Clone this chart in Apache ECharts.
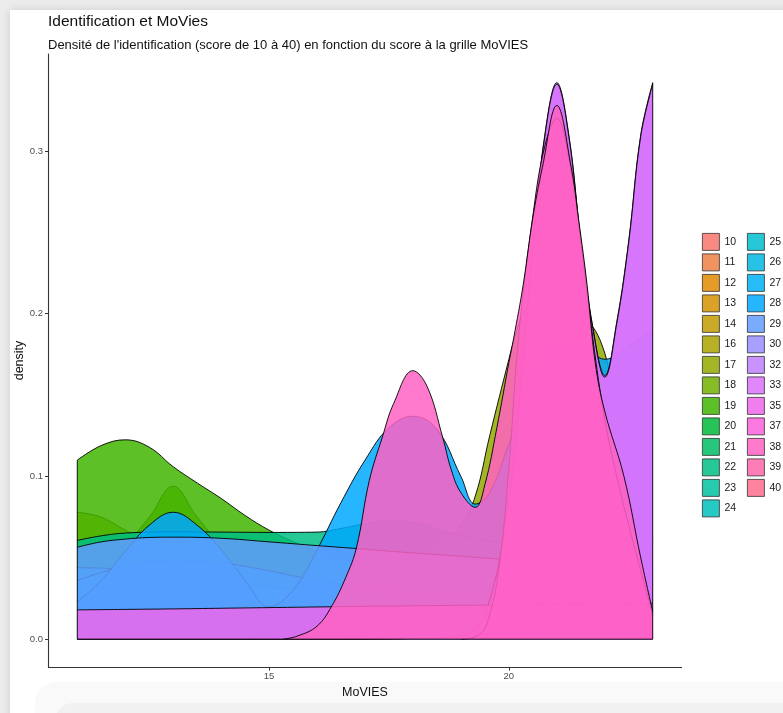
<!DOCTYPE html>
<html><head><meta charset="utf-8">
<script src="https://cdn.jsdelivr.net/npm/echarts@6/dist/echarts.min.js"></script>
<style>
html,body{margin:0;padding:0;width:783px;height:713px;overflow:hidden;background:#ececec;}
#card{position:absolute;left:10px;top:10px;width:800px;height:720px;background:#fff;box-shadow:0 0 9px rgba(0,0,0,0.13);}
#band1{position:absolute;left:35px;top:682px;width:780px;height:60px;background:#f9f9f9;border-radius:22px;}
#band2{position:absolute;left:55px;top:703px;width:760px;height:40px;background:#f1f1f1;border-radius:18px;}
#chart{position:absolute;left:0;top:0;width:783px;height:713px;}
</style></head>
<body>
<div id="card"></div><div id="band1"></div><div id="band2"></div>
<div id="chart"></div>
<script>
// ---- data ----
const groups = ['10','11','12','13','14','16','17','18','19','20','21','22','23','24','25','26','27','28','29','30','32','33','35','37','38','39','40'];
const xTicks = [15, 20];
const yTicks = [0, 0.1, 0.2, 0.3];

const xs16 = [11,11.5,12,12.5,13,14,15,16,17,18,19,20,21,22,23];
const d16  = [0.078,0.075,0.067,0.06,0.054,0.046,0.04,0.035,0.031,0.028,0.025,0.022,0.02,0.018,0.016];

const xs17 = [11,12,13,14,15,16,17,18,18.5,19,19.3,19.6,20,20.1,20.3,20.6,21,21.5,21.9,22.2,22.6,23];
const d17  = [0.03,0.03,0.031,0.032,0.033,0.035,0.038,0.045,0.055,0.07,0.088,0.125,0.172,0.183,0.2,0.21,0.212,0.2,0.184,0.15,0.1,0.06];

const xs18 = [11,12,12.5,13,13.5,14,15,16,17,18,19,20,21,22,23];
const d18  = [0.05,0.06,0.075,0.094,0.075,0.06,0.05,0.042,0.038,0.036,0.035,0.035,0.035,0.035,0.035];

const xs19 = [11,11.5,12,12.5,13,13.5,14,14.5,15,15.5,16,17,18,19,20,21,22,23];
const d19  = [0.110,0.119,0.1225,0.118,0.106,0.096,0.0865,0.076,0.067,0.06,0.054,0.045,0.04,0.036,0.033,0.031,0.03,0.029];

const xs22 = [11,11.5,12,13,14,15,16,16.5,17,17.5,18,18.5,19,20,21,22,23];
const d22  = [0.0607,0.0635,0.0652,0.066,0.0658,0.0656,0.0658,0.068,0.071,0.073,0.072,0.068,0.064,0.058,0.052,0.047,0.043];

const xs26 = [11,12,13,14,15,16,17,18,19,20,21,22,23];
const d26  = [0.044,0.043,0.04,0.036,0.032,0.029,0.027,0.026,0.026,0.027,0.029,0.032,0.035];

const xs27 = [11,12,13,14,15,16,17,18,19,20,21,22,23];
const d27  = [0.036,0.045,0.0485,0.047,0.042,0.036,0.031,0.028,0.027,0.028,0.03,0.032,0.034];

const xs28 = [11,11.5,12,12.5,13,13.5,14,14.5,15,15.5,16,16.5,17,17.5,18,18.5,19,19.3,19.6,20,20.5,21,21.5,22,22.5,23];
const d28  = [0.023,0.036,0.054,0.07,0.078,0.07,0.055,0.036,0.02,0.03,0.055,0.084,0.11,0.13,0.137,0.129,0.1,0.083,0.09,0.12,0.16,0.18,0.18,0.172,0.18,0.19];

const xs29 = [11,11.5,12,12.5,13,14,15,16,17,18,19,20,21,22,23];
const d29  = [0.0565,0.0598,0.0615,0.0625,0.0627,0.062,0.0598,0.0575,0.0553,0.053,0.051,0.0488,0.047,0.045,0.043];

const xs32 = [11,17,18,19,19.5,20,20.25,20.5,20.75,21,21.25,21.5,21.75,22,22.25,22.5,22.75,23];
const d32  = [0,0,0.0005,0.002,0.015,0.086,0.156,0.242,0.31,0.342,0.31,0.245,0.192,0.162,0.195,0.245,0.31,0.342];

const xs33 = [11,17,18,19,19.5,20,20.25,20.5,20.75,21,21.25,21.5,21.75,22,22.25,22.5,22.75,23];
const d33  = [0,0,0.0005,0.002,0.015,0.085,0.155,0.241,0.309,0.341,0.309,0.244,0.191,0.161,0.194,0.244,0.309,0.341];

const xs35 = [11,12,13,14,15,16,17,18,19,20,21,22,23];
const d35  = [0.018,0.0183,0.0186,0.019,0.0194,0.0198,0.0202,0.0205,0.0208,0.021,0.0213,0.0216,0.022];

const xs37 = [19,19.4,19.6,19.8,20,20.2,20.5,20.75,21,21.25,21.5,21.75,22,22.25,22.5,22.75,23];
const d37  = [0,0.003,0.015,0.045,0.105,0.185,0.26,0.303,0.32,0.296,0.245,0.185,0.135,0.1,0.07,0.042,0.015];

const xs38 = [15.3,15.6,16,16.3,16.6,16.82,17.09,17.36,17.6,18,18.3,18.62,18.8,19,19.3,19.5,19.75,20,20.1,20.3,20.5,20.7,21,21.3,21.45,21.63,21.8,22,22.4,22.75,23];
const d38  = [0,0.002,0.008,0.02,0.038,0.056,0.0975,0.124,0.145,0.165,0.155,0.124,0.104,0.09,0.081,0.095,0.13,0.17,0.185,0.218,0.259,0.29,0.328,0.29,0.259,0.218,0.17,0.14,0.1,0.05,0.017];

const curves = [
  ['16', xs16, d16], ['17', xs17, d17], ['18', xs18, d18], ['19', xs19, d19],
  ['22', xs22, d22], ['26', xs26, d26], ['27', xs27, d27], ['28', xs28, d28],
  ['29', xs29, d29], ['32', xs32, d32], ['33', xs33, d33], ['35', xs35, d35],
  ['37', xs37, d37], ['38', xs38, d38]
];

// ---- ggplot-like hue palette (HCL, c=100, l=65) ----
function hcl(h, c, l) {
  const hr = h * Math.PI / 180;
  const U = c * Math.cos(hr), V = c * Math.sin(hr);
  const Y = l > 8 ? Math.pow((l + 16) / 116, 3) : l / 903.3;
  const Xn = 0.95047, Yn = 1.0, Zn = 1.08883;
  const den = Xn + 15 * Yn + 3 * Zn;
  const un = 4 * Xn / den, vn = 9 * Yn / den;
  const u = U / (13 * l) + un, v = V / (13 * l) + vn;
  const X = 9 * Y * u / (4 * v);
  const Z = 3 * Y / v - X / 3 - 5 * Y;
  const lin = [
    3.240479 * X - 1.53715 * Y - 0.498535 * Z,
    -0.969256 * X + 1.875992 * Y + 0.041556 * Z,
    0.055648 * X - 0.204043 * Y + 1.057311 * Z
  ];
  return lin.map(t => {
    let s = t <= 0.0031308 ? 12.92 * t : 1.055 * Math.pow(t, 1 / 2.4) - 0.055;
    return Math.round(Math.max(0, Math.min(1, s)) * 255);
  });
}
const ALPHA = 0.85;
const colorOf = {};
groups.forEach((g, i) => {
  const rgb = hcl(15 + 360 * i / groups.length, 100, 65);
  colorOf[g] = 'rgba(' + rgb.join(',') + ',' + ALPHA + ')';
});

const series = [];
groups.forEach((g, i) => {
  const c = curves.find(k => k[0] === g);
  const data = c ? c[1].map((x, j) => [x, c[2][j]]) : [];
  series.push({
    name: g, type: 'line', data: data, smooth: 0.4, symbol: 'none',
    z: 2 + i,
    lineStyle: { color: '#000', width: 0.9 },
    itemStyle: { color: colorOf[g] },
    areaStyle: { color: colorOf[g], opacity: 1 },
    silent: true
  });
});
// polygon edges (left side, baseline, right side)
const rightTop = Math.max(d32[d32.length - 1], d38[d38.length - 1]);
series.push({
  type: 'line', data: [[11, d19[0]], [11, 0], [23, 0], [23, rightTop]],
  symbol: 'none', lineStyle: { color: '#000', width: 0.9 }, silent: true, z: 40
});

function legendData(list) {
  return list.map(g => ({
    name: g, icon: 'rect',
    itemStyle: { color: colorOf[g], borderColor: '#333', borderWidth: 0.8 }
  }));
}
const legendCommon = {
  orient: 'vertical', top: 233, itemWidth: 17, itemHeight: 17, itemGap: 2.7,
  selectedMode: false, icon: 'rect', padding: 0,
  textStyle: { fontSize: 10.5, color: '#1a1a1a', fontFamily: 'Liberation Sans, Arial, sans-serif' }
};

const chart = echarts.init(document.getElementById('chart'), null, { renderer: 'canvas' });
chart.setOption({
  animation: false,
  backgroundColor: 'transparent',
  textStyle: { fontFamily: 'Liberation Sans, Arial, sans-serif' },
  title: [
    { text: 'Identification et MoVies', left: 43, top: 8.5,
      textStyle: { fontSize: 15.5, fontWeight: 'normal', color: '#111', fontFamily: 'Liberation Sans, Arial, sans-serif' } },
    { text: "Densité de l'identification (score de 10 à 40) en fonction du score à la grille MoVIES", left: 43, top: 33.5,
      textStyle: { fontSize: 13, fontWeight: 'normal', color: '#111', fontFamily: 'Liberation Sans, Arial, sans-serif' } }
  ],
  legend: [
    Object.assign({}, legendCommon, { left: 702, data: legendData(groups.slice(0, 14)) }),
    Object.assign({}, legendCommon, { left: 747, data: legendData(groups.slice(14)) })
  ],
  grid: { left: 48.5, right: 101.5, top: 54, bottom: 46, containLabel: false },
  xAxis: {
    type: 'value', min: 10.4, max: 23.6,
    name: 'MoVIES', nameLocation: 'middle', nameGap: 19, nameMoveOverlap: false,
    nameTextStyle: { fontSize: 12.5, color: '#111' },
    axisLine: { show: true, onZero: false, lineStyle: { color: '#333', width: 1.1 } },
    axisTick: { show: true, customValues: xTicks, length: 3.5, lineStyle: { color: '#333', width: 1 } },
    axisLabel: { customValues: xTicks, fontSize: 9.5, color: '#4d4d4d', margin: 4.5 },
    splitLine: { show: false }
  },
  yAxis: {
    type: 'value', min: -0.0171, max: 0.3596,
    name: 'density', nameLocation: 'middle', nameGap: 22, nameRotate: 90, nameMoveOverlap: false,
    nameTextStyle: { fontSize: 12.5, color: '#111' },
    axisLine: { show: true, onZero: false, lineStyle: { color: '#333', width: 1.1 } },
    axisTick: { show: true, customValues: yTicks, length: 3.5, lineStyle: { color: '#333', width: 1 } },
    axisLabel: { customValues: yTicks, fontSize: 9.5, color: '#4d4d4d', margin: 5.5,
      formatter: v => v.toFixed(1) },
    splitLine: { show: false }
  },
  series: series
});
</script>
</body></html>
